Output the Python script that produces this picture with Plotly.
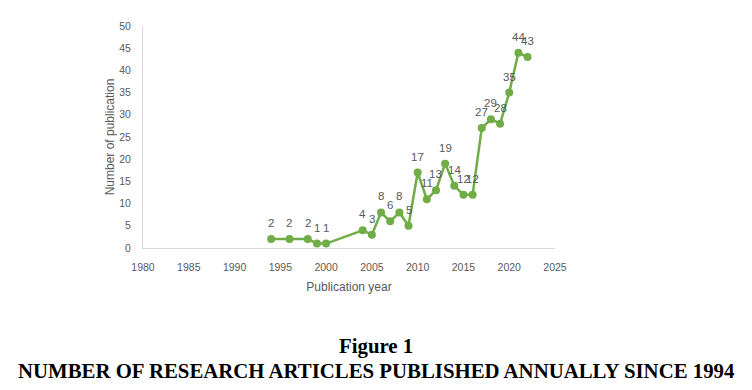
import plotly.graph_objects as go

years = [1994, 1996, 1998, 1999, 2000, 2004, 2005, 2006, 2007, 2008, 2009, 2010,
         2011, 2012, 2013, 2014, 2015, 2016, 2017, 2018, 2019, 2020, 2021, 2022]
counts = [2, 2, 2, 1, 1, 4, 3, 8, 6, 8, 5, 17, 11, 13, 19, 14, 12, 12, 27, 29, 28, 35, 44, 43]
x_ticks = [1980, 1985, 1990, 1995, 2000, 2005, 2010, 2015, 2020, 2025]
y_ticks = [0, 5, 10, 15, 20, 25, 30, 35, 40, 45, 50]
caption_1 = "Figure 1"
caption_2 = "NUMBER OF RESEARCH ARTICLES PUBLISHED ANNUALLY SINCE 1994"

green = "#70AD47"
gray = "#595959"
tick_font = dict(family="Liberation Sans", size=10.5, color=gray)

fig = go.Figure()
fig.add_trace(go.Scatter(
    x=years, y=counts, mode="lines+markers",
    line=dict(color=green, width=2.5),
    marker=dict(color=green, size=8),
    hoverinfo="x+y", showlegend=False,
))

for x, y in zip(years, counts):
    fig.add_annotation(x=x, y=y, text=str(y), showarrow=False, yshift=16,
                       font=dict(family="Liberation Sans", size=11.5, color=gray))

fig.update_layout(
    width=744, height=382,
    margin=dict(l=135, r=197, t=16, b=142),
    paper_bgcolor="white", plot_bgcolor="white",
    xaxis=dict(range=[1980, 2025], tickvals=x_ticks, showgrid=False, zeroline=False,
               showline=True, linecolor="#D9D9D9", linewidth=1,
               ticks="outside", ticklen=9, tickcolor="rgba(0,0,0,0)",
               tickfont=tick_font,
               title=dict(text="Publication year", standoff=11,
                          font=dict(family="Liberation Sans", size=12, color=gray))),
    yaxis=dict(range=[0, 50], tickvals=y_ticks, showgrid=False, zeroline=False,
               showline=True, linecolor="#D9D9D9", linewidth=1,
               ticks="outside", ticklen=9, tickcolor="rgba(0,0,0,0)",
               tickfont=tick_font,
               title=dict(text="Number of publication", standoff=2,
                          font=dict(family="Liberation Sans", size=12, color=gray))),
)

for txt, yp in [(caption_1, -0.442), (caption_2, -0.554)]:
    fig.add_annotation(text="<b>" + txt + "</b>", xref="paper", yref="paper",
                       x=0.5, y=yp, showarrow=False, xanchor="center", yanchor="middle",
                       xshift=27,
                       font=dict(family="Liberation Serif", size=20.8, color="black"))

fig.write_html("out.html")
